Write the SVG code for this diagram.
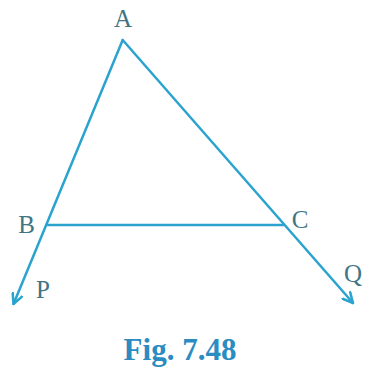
<svg xmlns="http://www.w3.org/2000/svg" width="365" height="381" viewBox="0 0 365 381">
<style>
.ln{stroke:#2aa3cf;stroke-width:2.5;fill:none;stroke-linecap:round}
.lb{font-family:"Liberation Serif",serif;font-size:25px;fill:#3f7585}
.cap{font-family:"Liberation Serif",serif;font-size:31px;font-weight:bold;fill:#2a8cc0}
</style>
<defs>
<marker id="arr" viewBox="0 0 12 12" refX="11" refY="6" markerWidth="12" markerHeight="12" markerUnits="userSpaceOnUse" orient="auto">
<path d="M1,1 L11,6 L1,11" fill="none" stroke="#2aa3cf" stroke-width="2.5" stroke-linecap="round" stroke-linejoin="round"/>
</marker>
</defs>
<rect width="365" height="381" fill="#ffffff"/>
<g id="connectors">
<line class="ln" x1="122.7" y1="40" x2="13.5" y2="304" marker-end="url(#arr)"/>
<line class="ln" x1="122.7" y1="40" x2="353" y2="303" marker-end="url(#arr)"/>
<line class="ln" x1="48" y1="225" x2="284" y2="225"/>
</g>
<g id="A"><text class="lb" x="123" y="27" text-anchor="middle">A</text></g>
<g id="B"><text class="lb" x="26.5" y="233" text-anchor="middle">B</text></g>
<g id="C"><text class="lb" x="300" y="228" text-anchor="middle">C</text></g>
<g id="P"><text class="lb" x="43" y="298" text-anchor="middle">P</text></g>
<g id="Q"><text class="lb" x="353" y="282" text-anchor="middle">Q</text></g>
<g id="caption"><text class="cap" x="180" y="360" text-anchor="middle">Fig. 7.48</text></g>
</svg>
